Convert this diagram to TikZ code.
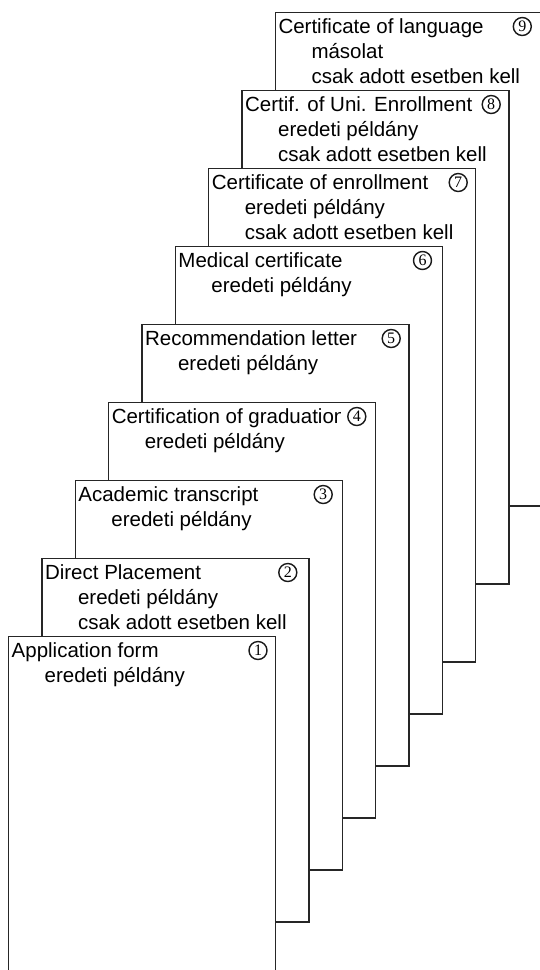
\documentclass[tikz,border=0pt]{standalone}
\usepackage{fontspec}
\setmainfont{Liberation Sans}
\newfontfamily\numserif{Liberation Serif}
\begin{document}
\begin{tikzpicture}[x=1pt,y=-1pt,
  doc/.style={draw=black!85, fill=white, line width=1.35pt, anchor=north west,
    inner sep=0pt, outer sep=0pt, minimum width=266.8pt},
  ttl/.style={anchor=base west, inner sep=0pt, outer sep=0pt, text=black,
    font=\fontsize{20.5}{25}\selectfont},
  num/.style={circle, draw=black!90, line width=1.4pt, minimum size=18pt,
    inner sep=0pt, text=black, font=\numserif\fontsize{16}{16}\selectfont}]
\clip (0,0) rectangle (540,970);
% box 9
\node[doc, minimum height=493.5pt] (b9) at (275.5,12.5) {};
\node[ttl] (t9a) at (278.5,33) {Certificate of language};
\node[ttl] (t9b) at (311.5,58) {másolat};
\node[ttl] (t9c) at (311.5,83) {csak adott esetben kell};
\node[num] (n9) at (522.3,26.5) {9};
% box 8
\node[doc, minimum height=493.5pt] (b8) at (242.15,90.5) {};
\node[ttl] (t8a) at (245.15,111) {Certif. of Uni. Enrollment};
\node[ttl] (t8b) at (278.15,136) {eredeti példány};
\node[ttl] (t8c) at (278.15,161) {csak adott esetben kell};
\node[num] (n8) at (491.2,104.5) {8};
% box 7
\node[doc, minimum height=493.5pt] (b7) at (208.8,168.5) {};
\node[ttl] (t7a) at (211.8,189) {Certificate of enrollment};
\node[ttl] (t7b) at (244.8,214) {eredeti példány};
\node[ttl] (t7c) at (244.8,239) {csak adott esetben kell};
\node[num] (n7) at (458.2,182.5) {7};
% box 6
\node[doc, minimum height=467.5pt] (b6) at (175.45,246.5) {};
\node[ttl] (t6a) at (178.45,267) {Medical certificate};
\node[ttl] (t6b) at (211.45,292) {eredeti példány};
\node[num] (n6) at (422.5,260.5) {6};
% box 5
\node[doc, minimum height=441.5pt] (b5) at (142.1,324.5) {};
\node[ttl] (t5a) at (145.1,345) {Recommendation letter};
\node[ttl] (t5b) at (178.1,370) {eredeti példány};
\node[num] (n5) at (391.2,338.5) {5};
% box 4
\node[doc, minimum height=415.5pt] (b4) at (108.75,402.5) {};
\begin{scope}
  \clip (108.75,402.5) rectangle (340,430);
  \node[ttl] (t4a) at (111.75,423) {Certification of graduation};
\end{scope}
\node[ttl] (t4b) at (144.75,448) {eredeti példány};
\node[num] (n4) at (356.8,416.5) {4};
% box 3
\node[doc, minimum height=389.5pt] (b3) at (75.4,480.5) {};
\node[ttl] (t3a) at (78.4,501) {Academic transcript};
\node[ttl] (t3b) at (111.4,526) {eredeti példány};
\node[num] (n3) at (323.2,494.5) {3};
% box 2
\node[doc, minimum height=363.5pt] (b2) at (42.05,558.5) {};
\node[ttl] (t2a) at (45.05,579) {Direct Placement};
\node[ttl] (t2b) at (78.05,604) {eredeti példány};
\node[ttl] (t2c) at (78.05,629) {csak adott esetben kell};
\node[num] (n2) at (287.8,572.5) {2};
% box 1
\node[doc, minimum height=338.5pt] (b1) at (8.7,636.5) {};
\node[ttl] (t1a) at (11.7,657) {Application form};
\node[ttl] (t1b) at (44.7,682) {eredeti példány};
\node[num] (n1) at (258,650.5) {1};
\end{tikzpicture}
\end{document}
